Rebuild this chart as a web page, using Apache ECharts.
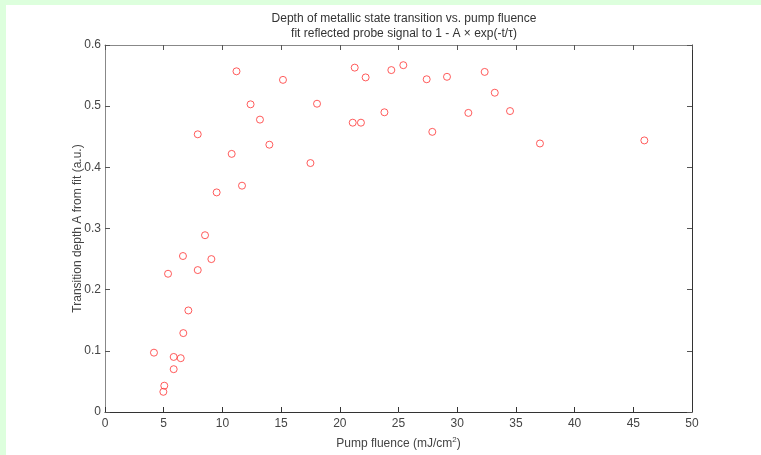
<!DOCTYPE html>
<html>
<head>
<meta charset="utf-8">
<script src="https://cdn.jsdelivr.net/npm/echarts@6/dist/echarts.min.js"></script>
<style>
  html, body { margin: 0; padding: 0; background: #ddffdd; }
  #chart { position: absolute; left: 6px; top: 5px; width: 755px; height: 450px; background: #ffffff; }
</style>
</head>
<body>
<div id="chart"></div>
<script>
// Pump fluence (mJ/cm^2) and fitted transition depth A
const fluence = [4.17, 4.97, 5.05, 5.37, 5.85, 5.85, 6.45, 6.64, 6.67, 7.1,
  7.9, 7.9, 8.52, 9.06, 9.51, 10.79, 11.2, 11.67, 12.4, 13.2,
  14.0, 15.16, 17.5, 18.06, 21.1, 21.27, 21.8, 22.2, 23.8, 24.39,
  25.41, 27.4, 27.88, 29.13, 30.95, 32.34, 33.2, 34.5, 37.05, 45.94];
const depth = [0.097, 0.033, 0.043, 0.226, 0.090, 0.070, 0.088, 0.255, 0.129, 0.166,
  0.232, 0.454, 0.289, 0.250, 0.359, 0.422, 0.557, 0.370, 0.503, 0.478,
  0.437, 0.543, 0.407, 0.504, 0.473, 0.563, 0.473, 0.547, 0.490, 0.559,
  0.567, 0.544, 0.458, 0.548, 0.489, 0.556, 0.522, 0.492, 0.439, 0.444];
const titleLines = ['Depth of metallic state transition vs. pump fluence',
  'fit reflected probe signal to 1 - A \u00d7 exp(-t/\u03c4)'];
const xLabel = 'Pump fluence (mJ/cm{sup|2})';
const yLabel = 'Transition depth A from fit (a.u.)';

const points = fluence.map((x, i) => [x, depth[i]]);
const font = 'Liberation Sans, Arial, sans-serif';
const axisCol = '#555555';
const textCol = '#444444';

const chart = echarts.init(document.getElementById('chart'));
chart.setOption({
  animation: false,
  title: {
    text: titleLines.join('\n'),
    left: 393, top: 1, textAlign: 'center',
    textStyle: { fontFamily: font, fontSize: 12, fontWeight: 'normal', color: '#333333', lineHeight: 15 }
  },
  grid: { left: 99, right: 69, top: 40, bottom: 40 },
  xAxis: [{
    type: 'value', min: 0, max: 50, interval: 5,
    name: xLabel, nameLocation: 'middle', nameGap: 24,
    nameTextStyle: {
      fontFamily: font, fontSize: 12, color: textCol,
      rich: { sup: { fontFamily: font, fontSize: 8, color: textCol, verticalAlign: 'top', padding: [0, 0, 8, 0] } }
    },
    axisLine: { show: true, onZero: false, lineStyle: { color: '#333333', width: 1 } },
    axisTick: { show: true, inside: true, length: 5, lineStyle: { color: '#333333' } },
    axisLabel: { fontFamily: font, fontSize: 12, color: textCol, margin: 6 },
    splitLine: { show: false }
  }, {
    type: 'value', min: 0, max: 50, interval: 5, position: 'top',
    axisLine: { show: true, onZero: false, lineStyle: { color: '#888888', width: 1 } },
    axisTick: { show: true, inside: true, length: 5, lineStyle: { color: axisCol } },
    axisLabel: { show: false },
    splitLine: { show: false }
  }],
  yAxis: [{
    type: 'value', min: 0, max: 0.6, interval: 0.1,
    name: yLabel, nameLocation: 'middle', nameGap: 21, nameMoveOverlap: false,
    nameTextStyle: { fontFamily: font, fontSize: 12, color: textCol },
    axisLine: { show: true, onZero: false, lineStyle: { color: '#888888', width: 1 } },
    axisTick: { show: true, inside: true, length: 5, lineStyle: { color: axisCol } },
    axisLabel: { fontFamily: font, fontSize: 12, color: textCol, margin: 4,
      formatter: v => (Math.round(v * 10) / 10).toString() },
    splitLine: { show: false }
  }, {
    type: 'value', min: 0, max: 0.6, interval: 0.1, position: 'right',
    axisLine: { show: true, onZero: false, lineStyle: { color: '#333333', width: 1 } },
    axisTick: { show: true, inside: true, length: 5, lineStyle: { color: axisCol } },
    axisLabel: { show: false },
    splitLine: { show: false }
  }],
  series: [{
    type: 'scatter',
    data: points,
    symbol: 'circle',
    symbolSize: 7,
    itemStyle: { color: 'rgba(0,0,0,0)', borderColor: '#ff3333', borderWidth: 1 }
  }]
});
</script>
</body>
</html>
